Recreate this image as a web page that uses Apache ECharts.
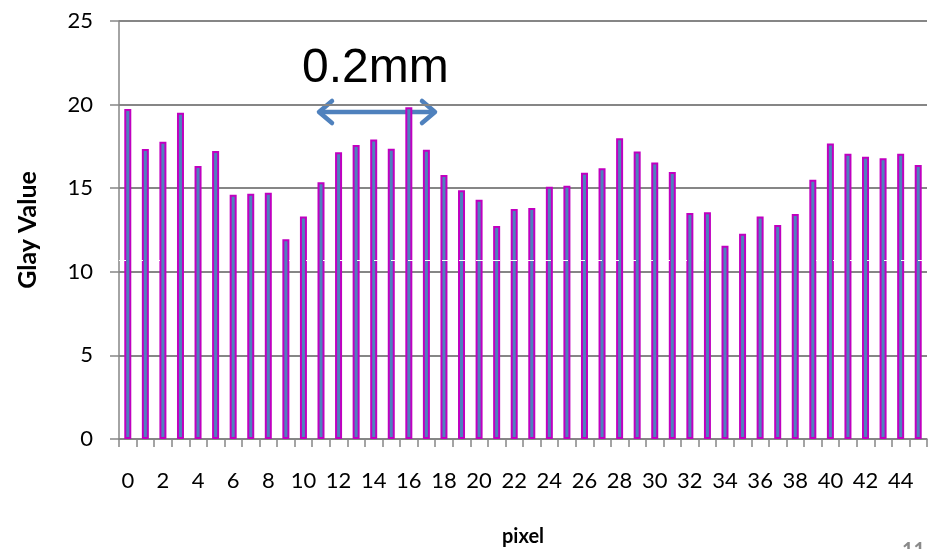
<!DOCTYPE html>
<html>
<head>
<meta charset="utf-8">
<script src="https://cdn.jsdelivr.net/npm/echarts@6/dist/echarts.min.js"></script>
<style>
  html, body { margin: 0; padding: 0; background: #fff; }
  #chart { width: 930px; height: 549px; }
</style>
</head>
<body>
<div id="chart"></div>
<script>
const pixels = Array.from({ length: 46 }, (_, i) => String(i))
const glayValues = [
  19.74, 17.34, 17.78, 19.52, 16.33, 17.22, 14.61, 14.67, 14.73, 11.94,
  13.30, 15.35, 17.15, 17.58, 17.92, 17.36, 19.84, 17.30, 15.79, 14.87,
  14.31, 12.74, 13.76, 13.82, 15.09, 15.15, 15.93, 16.19, 17.98, 17.20,
  16.53, 15.97, 13.52, 13.56, 11.56, 12.28, 13.30, 12.80, 13.46, 15.51,
  17.68, 17.06, 16.88, 16.79, 17.06, 16.39,
]
const yTicks = [0, 5, 10, 15, 20, 25]
const dashLevel = 10.67

const gray = '#868686'
const arrowBlue = '#4F81BD'
const font = 'Lato, "Open Sans", sans-serif'

const chart = echarts.init(document.getElementById('chart'))

chart.setOption({
  animation: false,
  grid: { left: 119, right: 3, top: 21, bottom: 110, outerBoundsMode: 'none' },
  xAxis: {
    type: 'category',
    data: pixels,
    name: 'pixel',
    nameLocation: 'middle',
    nameGap: 88,
    nameTextStyle: { fontFamily: font, fontSize: 20, fontWeight: 'bold', color: '#000' },
    axisLine: { lineStyle: { color: gray, width: 1.5 } },
    axisTick: { show: true, interval: 0, length: 8, lineStyle: { color: gray, width: 1.5 } },
    axisLabel: { interval: 1, fontFamily: font, fontSize: 22, color: '#000', margin: 31 },
  },
  yAxis: {
    type: 'value',
    min: yTicks[0],
    max: yTicks[yTicks.length - 1],
    interval: 5,
    name: 'Glay Value',
    nameLocation: 'middle',
    nameGap: 79,
    nameRotate: 90,
    nameTextStyle: { fontFamily: font, fontSize: 25, fontWeight: 'bold', color: '#000' },
    axisLine: { show: true, lineStyle: { color: gray, width: 1.5 } },
    axisTick: { show: true, inside: false, length: 9, lineStyle: { color: gray, width: 1.5 } },
    axisLabel: { fontFamily: font, fontSize: 22, color: '#000', margin: 26 },
    splitLine: { lineStyle: { color: gray, width: 2 } },
  },
  series: [
    {
      type: 'bar',
      data: glayValues,
      barWidth: 7,
      itemStyle: {
        color: '#4F81BD',
        borderColor: '#C000C0',
        borderWidth: 2,
      },
      markLine: {
        silent: true,
        symbol: 'none',
        label: { show: false },
        lineStyle: { color: '#fff', type: [7, 10], width: 1 },
        data: [{ yAxis: dashLevel }],
        z: 10,
      },
    },
  ],
  graphic: [
    {
      type: 'text',
      left: 302,
      top: 45,
      style: { text: '0.2mm', font: '48px "Liberation Sans", Arial, sans-serif', fill: '#000' },
    },
    {
      type: 'group',
      z: 20,
      children: [
        { type: 'line', shape: { x1: 319, y1: 112, x2: 435, y2: 112 }, style: { stroke: arrowBlue, lineWidth: 4.5 } },
        { type: 'polyline', shape: { points: [[332, 101], [319, 112], [332, 123]] }, style: { stroke: arrowBlue, lineWidth: 4.5, lineCap: 'round', lineJoin: 'round', fill: null } },
        { type: 'polyline', shape: { points: [[422, 101], [435, 112], [422, 123]] }, style: { stroke: arrowBlue, lineWidth: 4.5, lineCap: 'round', lineJoin: 'round', fill: null } },
      ],
    },
    {
      type: 'text',
      left: 902,
      top: 541,
      style: { text: '11', font: 'bold 20px Lato, sans-serif', fill: '#8a8a8a' },
    },
  ],
})
</script>
</body>
</html>
